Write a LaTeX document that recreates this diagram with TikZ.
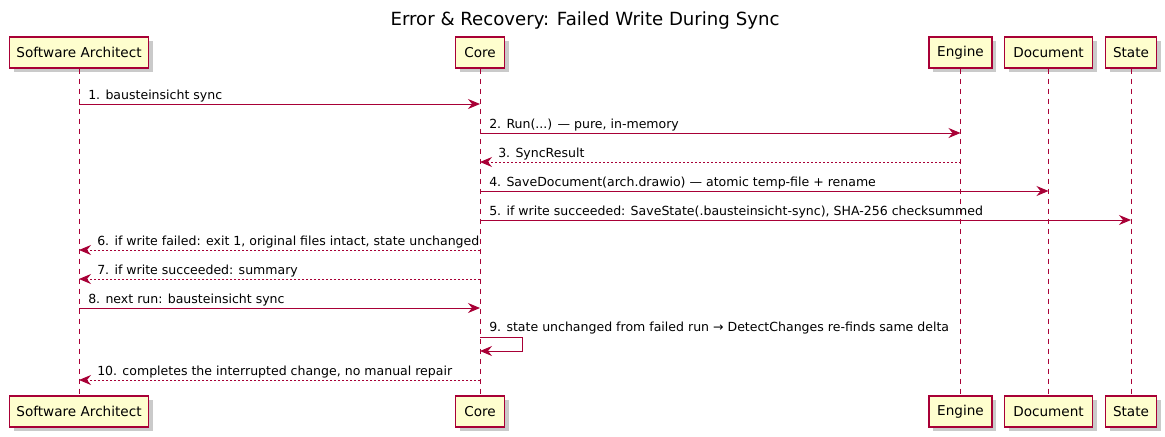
\documentclass[tikz,border=0pt]{standalone}
\usepackage{fontspec}
\setmainfont{DejaVu Sans}
\usetikzlibrary{arrows.meta,shadows}
\definecolor{pred}{HTML}{A80036}
\definecolor{pfill}{HTML}{FEFECE}
\begin{document}
\begin{tikzpicture}[x=0.75pt,y=-0.75pt,
  part/.style={draw=pred, fill=pfill, line width=0.9pt, minimum height=23.25pt,
    inner sep=0pt, font=\fontsize{10.2pt}{12pt}\selectfont,
    drop shadow={shadow xshift=3pt, shadow yshift=-3pt, fill=black!35, opacity=0.6}},
  life/.style={draw=pred, line width=0.75pt, dash pattern=on 3.75pt off 3.75pt},
  msg/.style={draw=pred, line width=0.75pt, -{Stealth[length=9pt,width=7.5pt,inset=3pt]}},
  ret/.style={msg, dash pattern=on 1.5pt off 1.5pt},
  lbl/.style={anchor=base west, inner sep=0pt, font=\fontsize{9.4pt}{12pt}\selectfont}]
\useasboundingbox (0,0) rectangle (1165,436);
\node[font=\fontsize{13.6pt}{16pt}\selectfont] (title) at (585,20) {Error \& Recovery: Failed Write During Sync};
% top participants
\node[part, minimum width=104.25pt] (saT) at (79,52.5) {Software Architect};
\node[part, minimum width=36.75pt] (coT) at (480,52.5) {Core};
\node[part, minimum width=47.25pt] (enT) at (960.5,52.5) {Engine};
\node[part, minimum width=66pt] (doT) at (1048.5,52.5) {Document};
\node[part, minimum width=38.25pt] (stT) at (1131,52.5) {State};
% bottom participants
\node[part, minimum width=104.25pt] (saB) at (79,411.5) {Software Architect};
\node[part, minimum width=36.75pt] (coB) at (480,411.5) {Core};
\node[part, minimum width=47.25pt] (enB) at (960.5,411.5) {Engine};
\node[part, minimum width=66pt] (doB) at (1048.5,411.5) {Document};
\node[part, minimum width=38.25pt] (stB) at (1131,411.5) {State};
% lifelines
\foreach \p in {sa,co,en,do,st} \draw[life] (\p T.south) -- (\p B.north);
% messages
\draw[msg] (saT.south |- 0,104) -- (coT.south |- 0,104);
\node[lbl] (m1) at (88,99) {1. bausteinsicht sync};
\draw[msg] (coT.south |- 0,133) -- (enT.south |- 0,133);
\node[lbl] (m2) at (489,128) {2. Run(...) — pure, in-memory};
\draw[ret] (enT.south |- 0,162) -- (coT.south |- 0,162);
\node[lbl] (m3) at (498,157) {3. SyncResult};
\draw[msg] (coT.south |- 0,191) -- (doT.south |- 0,191);
\node[lbl] (m4) at (489,186) {4. SaveDocument(arch.drawio) — atomic temp-file + rename};
\draw[msg] (coT.south |- 0,220) -- (stT.south |- 0,220);
\node[lbl] (m5) at (489,215) {5. if write succeeded: SaveState(.bausteinsicht-sync), SHA-256 checksummed};
\draw[ret] (coT.south |- 0,250) -- (saT.south |- 0,250);
\node[lbl] (m6) at (97,245) {6. if write failed: exit 1, original files intact, state unchanged};
\draw[ret] (coT.south |- 0,279) -- (saT.south |- 0,279);
\node[lbl] (m7) at (97,274) {7. if write succeeded: summary};
\draw[msg] (saT.south |- 0,308) -- (coT.south |- 0,308);
\node[lbl] (m8) at (88,303) {8. next run: bausteinsicht sync};
\coordinate (l9a) at (522,337);
\coordinate (l9b) at (522,351);
\draw[msg] (coT.south |- 0,337) -- (l9a) -- (l9b) -- (coT.south |- 0,351);
\node[lbl] (m9) at (489,331) {9. state unchanged from failed run → DetectChanges re-finds same delta};
\draw[ret] (coT.south |- 0,380) -- (saT.south |- 0,380);
\node[lbl] (m10) at (97,375) {10. completes the interrupted change, no manual repair};
\end{tikzpicture}
\end{document}
